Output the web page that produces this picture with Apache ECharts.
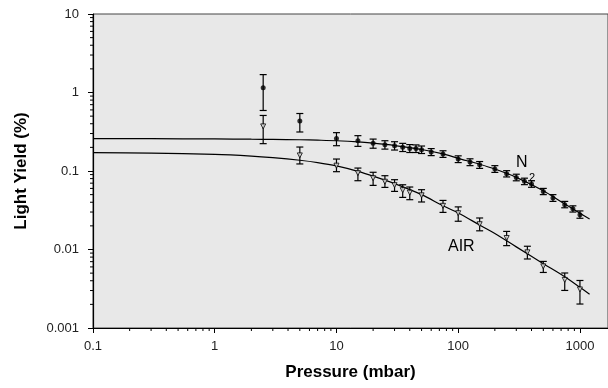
<!DOCTYPE html>
<html>
<head>
<meta charset="utf-8">
<script src="https://cdn.jsdelivr.net/npm/echarts@6/dist/echarts.min.js"></script>
<style>html,body{margin:0;padding:0;background:#fff}#c{width:608px;height:388px}</style>
</head>
<body>
<div id="c"></div>
<script>
// ---- data ----
const n2X  = [2.5, 5, 10, 15, 20, 25, 30, 35, 40, 45, 50, 60, 75, 100, 125, 150, 200, 250, 300, 350, 400, 500, 600, 750, 875, 1000];
const n2Y  = [1.15, 0.434, 0.26, 0.242, 0.225, 0.216, 0.21, 0.2, 0.194, 0.193, 0.187, 0.175, 0.165, 0.142, 0.130, 0.120, 0.106, 0.0924, 0.0828, 0.0738, 0.0683, 0.055, 0.0453, 0.0372, 0.0331, 0.0278];
const n2Lo = [0.59, 0.314, 0.21, 0.206, 0.195, 0.19, 0.185, 0.177, 0.172, 0.172, 0.167, 0.157, 0.149, 0.128, 0.117, 0.108, 0.096, 0.084, 0.075, 0.067, 0.062, 0.05, 0.041, 0.034, 0.030, 0.025];
const n2Hi = [1.69, 0.54, 0.308, 0.282, 0.255, 0.243, 0.236, 0.225, 0.217, 0.215, 0.208, 0.193, 0.181, 0.156, 0.143, 0.132, 0.117, 0.101, 0.091, 0.081, 0.075, 0.06, 0.05, 0.041, 0.036, 0.031];

const airX  = [2.5, 5, 10, 15, 20, 25, 30, 35, 40, 50, 75, 100, 150, 250, 370, 500, 750, 1000];
const airY  = [0.37, 0.158, 0.117, 0.094, 0.081, 0.073, 0.066, 0.057, 0.053, 0.049, 0.036, 0.029, 0.021, 0.014, 0.0092, 0.0061, 0.0041, 0.0031];
const airLo = [0.223, 0.123, 0.098, 0.0752, 0.0656, 0.0618, 0.055, 0.0461, 0.0431, 0.0403, 0.0297, 0.0229, 0.0173, 0.0112, 0.00757, 0.0051, 0.00301, 0.00202];
const airHi = [0.51, 0.202, 0.142, 0.109, 0.0963, 0.0871, 0.0775, 0.0668, 0.0625, 0.0578, 0.0422, 0.0349, 0.0252, 0.017, 0.011, 0.00705, 0.00502, 0.00403];

const fitX   = [0.1, 0.3, 1, 2, 3, 5, 7, 10, 15, 20, 30, 50, 75, 100, 150, 200, 300, 500, 750, 1000, 1200];
const n2Fit  = [0.258, 0.258, 0.256, 0.254, 0.253, 0.250, 0.247, 0.243, 0.235, 0.226, 0.211, 0.188, 0.165, 0.145, 0.122, 0.106, 0.083, 0.056, 0.038, 0.029, 0.0245];
const airFit = [0.171, 0.169, 0.163, 0.155, 0.148, 0.137, 0.128, 0.116, 0.099, 0.086, 0.069, 0.050, 0.036, 0.0292, 0.0205, 0.016, 0.0108, 0.0066, 0.0045, 0.0033, 0.0027];

const xTickLabels = ['0.1', '1', '10', '100', '1000'];
const yTickLabels = ['0.001', '0.01', '0.1', '1', '10'];
const xMinor = [0.2,0.3,0.4,0.5,0.6,0.7,0.8,0.9, 2,3,4,5,6,7,8,9, 20,30,40,50,60,70,80,90, 200,300,400,500,600,700,800,900];
const yMinor = [0.002,0.003,0.004,0.005,0.006,0.007,0.008,0.009, 0.02,0.03,0.04,0.05,0.06,0.07,0.08,0.09, 0.2,0.3,0.4,0.5,0.6,0.7,0.8,0.9, 2,3,4,5,6,7,8,9];

const X_MIN = 0.1, X_MAX = 1700, Y_MIN = 0.001, Y_MAX = 10;

const chart = echarts.init(document.getElementById('c'), null, {renderer: 'canvas'});
const FONT = '"Liberation Sans", Arial, sans-serif';

function fmtLabel(list) {
  return function (v) {
    for (const s of list) { if (Math.abs(Math.log10(v) - Math.log10(parseFloat(s))) < 1e-6) return s; }
    return '';
  };
}

function errRender(params, api) {
  const x = api.value(0);
  const a = api.coord([x, api.value(1)]);
  const b = api.coord([x, api.value(2)]);
  const w = 3.5;
  const st = {stroke: '#000', lineWidth: 1.2};
  return {type: 'group', children: [
    {type: 'line', shape: {x1: a[0], y1: a[1], x2: b[0], y2: b[1]}, style: st},
    {type: 'line', shape: {x1: a[0]-w, y1: a[1], x2: a[0]+w, y2: a[1]}, style: st},
    {type: 'line', shape: {x1: b[0]-w, y1: b[1], x2: b[0]+w, y2: b[1]}, style: st}
  ]};
}

const option = {
  backgroundColor: '#ffffff',
  animation: false,
  grid: {left: 93, right: 0, top: 14, bottom: 60, show: true, backgroundColor: '#e8e8e8', borderColor: '#444', borderWidth: 1},
  xAxis: {
    type: 'log', logBase: 10, min: X_MIN, max: X_MAX,
    name: 'Pressure (mbar)', nameLocation: 'middle', nameGap: 36,
    nameTextStyle: {fontFamily: FONT, fontSize: 17, fontWeight: 'bold', color: '#000'},
    axisLine: {lineStyle: {color: '#000', width: 1.2}},
    axisTick: {show: true, length: 5, inside: false, lineStyle: {color: '#000'}},
    axisLabel: {formatter: fmtLabel(xTickLabels), fontFamily: FONT, fontSize: 13, color: '#222', margin: 12, showMaxLabel: false},
    splitLine: {show: false}
  },
  yAxis: {
    type: 'log', logBase: 10, min: Y_MIN, max: Y_MAX,
    name: 'Light Yield (%)', nameLocation: 'middle', nameGap: 63,
    nameTextStyle: {fontFamily: FONT, fontSize: 17, fontWeight: 'bold', color: '#000'},
    axisLine: {lineStyle: {color: '#000', width: 1.2}},
    axisTick: {show: true, length: 5, inside: false, lineStyle: {color: '#000'}},
    axisLabel: {formatter: fmtLabel(yTickLabels), fontFamily: FONT, fontSize: 13, color: '#222', margin: 14},
    splitLine: {show: false}
  },
  series: [
    {name: 'N2 fit', type: 'line', data: fitX.map((x, i) => [x, n2Fit[i]]), smooth: 0.3, showSymbol: false, symbol: 'none',
     lineStyle: {color: '#000', width: 1.2}, z: 2},
    {name: 'AIR fit', type: 'line', data: fitX.map((x, i) => [x, airFit[i]]), smooth: 0.3, showSymbol: false, symbol: 'none',
     lineStyle: {color: '#000', width: 1.2}, z: 2},
    {name: 'N2 err', type: 'custom', renderItem: errRender, data: n2X.map((x, i) => [x, n2Lo[i], n2Hi[i]]),
     encode: {x: 0, y: [1, 2]}, z: 3},
    {name: 'AIR err', type: 'custom', renderItem: errRender, data: airX.map((x, i) => [x, airLo[i], airHi[i]]),
     encode: {x: 0, y: [1, 2]}, z: 3},
    {name: 'N2', type: 'scatter', data: n2X.map((x, i) => [x, n2Y[i]]), symbol: 'circle', symbolSize: 5,
     itemStyle: {color: '#000'}, z: 4},
    {name: 'AIR', type: 'scatter', data: airX.map((x, i) => [x, airY[i]]), symbol: 'triangle', symbolRotate: 180, symbolSize: 5,
     itemStyle: {color: '#e8e8e8', borderColor: '#000', borderWidth: 1}, z: 4},
    {name: 'x minor', type: 'custom', clip: false, silent: true, data: xMinor.map(v => [v, Y_MIN]), encode: {x: 0, y: 1},
     renderItem: function (p, api) {
       const c = api.coord([api.value(0), api.value(1)]);
       return {type: 'line', shape: {x1: c[0], y1: c[1], x2: c[0], y2: c[1] + 3}, style: {stroke: '#000', lineWidth: 1}};
     }},
    {name: 'y minor', type: 'custom', clip: false, silent: true, data: yMinor.map(v => [X_MIN, v]), encode: {x: 0, y: 1},
     renderItem: function (p, api) {
       const c = api.coord([api.value(0), api.value(1)]);
       return {type: 'line', shape: {x1: c[0] - 3, y1: c[1], x2: c[0], y2: c[1]}, style: {stroke: '#000', lineWidth: 1}};
     }}
  ],
  graphic: [
    {type: 'text', left: 516, top: 155, style: {text: 'N', font: '16px "Liberation Sans", Arial, sans-serif', fill: '#000'}},
    {type: 'text', left: 529, top: 172, style: {text: '2', font: '11px "Liberation Sans", Arial, sans-serif', fill: '#000'}},
    {type: 'text', left: 448, top: 239, style: {text: 'AIR', font: '16px "Liberation Sans", Arial, sans-serif', fill: '#000'}}
  ]
};
chart.setOption(option);
</script>
</body>
</html>
